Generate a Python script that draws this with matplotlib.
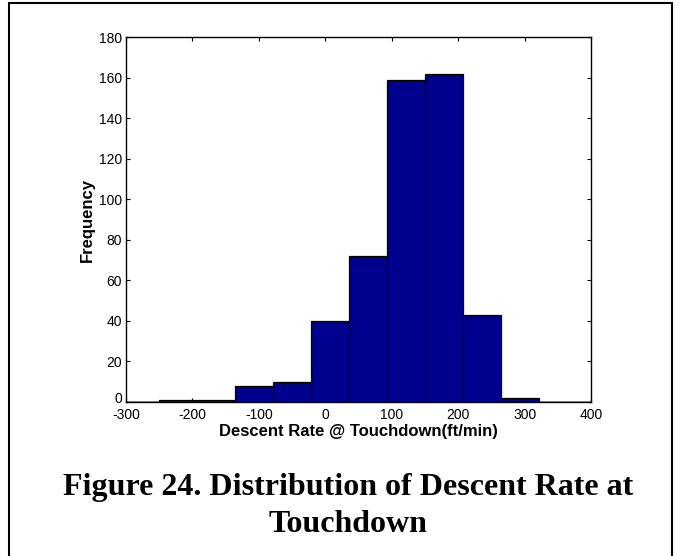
import matplotlib
matplotlib.use('Agg')
import matplotlib.pyplot as plt
import matplotlib.transforms as mtransforms
import numpy as np
from matplotlib.patches import Rectangle

# histogram
bin_edges = [-251, -194, -136, -79, -22, 35, 93, 150, 207, 265, 322]
counts = [1, 1, 8, 10, 40, 72, 159, 162, 43, 2]
xticks = [-300, -200, -100, 0, 100, 200, 300, 400]
yticks = [0, 20, 40, 60, 80, 100, 120, 140, 160, 180]

plt.rcParams['font.family'] = ['Liberation Sans', 'DejaVu Sans']
plt.rcParams['axes.unicode_minus'] = False

fig = plt.figure(figsize=(6.81, 5.56), dpi=100)
ax = fig.add_axes([0.185, 0.277, 0.683, 0.656])

edges = np.array(bin_edges, dtype=float)
lefts = edges[:-1]
widths = np.diff(edges)
ax.axhline(0, color='#808080', lw=1.2, zorder=1)
ax.bar(lefts, counts, width=widths, align='edge', color='#00008F',
       edgecolor='black', linewidth=0.9, zorder=2)

ax.set_xlim(-300, 400)
ax.set_ylim(0, 180)
ax.set_xticks(xticks)
ax.set_yticks(yticks)
ax.tick_params(direction='in', top=True, right=True, length=3, width=0.8,
               labelsize=10, pad=3, colors='black')
ax.tick_params(axis='x', pad=4)
for s in ax.spines.values():
    s.set_linewidth(1.0)

# nudge the "0" y label up so it clears "-300"
zero_lbl = ax.get_yticklabels()[0]
zero_lbl.set_transform(zero_lbl.get_transform() +
                       mtransforms.ScaledTranslation(0, 3 / 72, fig.dpi_scale_trans))

ax.set_xlabel('Descent Rate @ Touchdown(ft/min)', fontsize=12, fontweight='bold', labelpad=2)
ax.set_ylabel('Frequency', fontsize=12, fontweight='bold', labelpad=3)

fig.text(348 / 681, 1 - 487.6 / 556, 'Figure 24. Distribution of Descent Rate at',
         ha='center', va='center', family='Liberation Serif', fontweight='bold', fontsize=23)
fig.text(348 / 681, 1 - 525 / 556, 'Touchdown',
         ha='center', va='center', family='Liberation Serif', fontweight='bold', fontsize=23)

# frame around the whole figure
fig.patches.append(Rectangle((9 / 681, -0.05), (672 - 9) / 681, 1.05 - 3 / 556,
                             transform=fig.transFigure, fill=False,
                             edgecolor='black', linewidth=1.5))

fig.savefig('out.png', dpi=100)
